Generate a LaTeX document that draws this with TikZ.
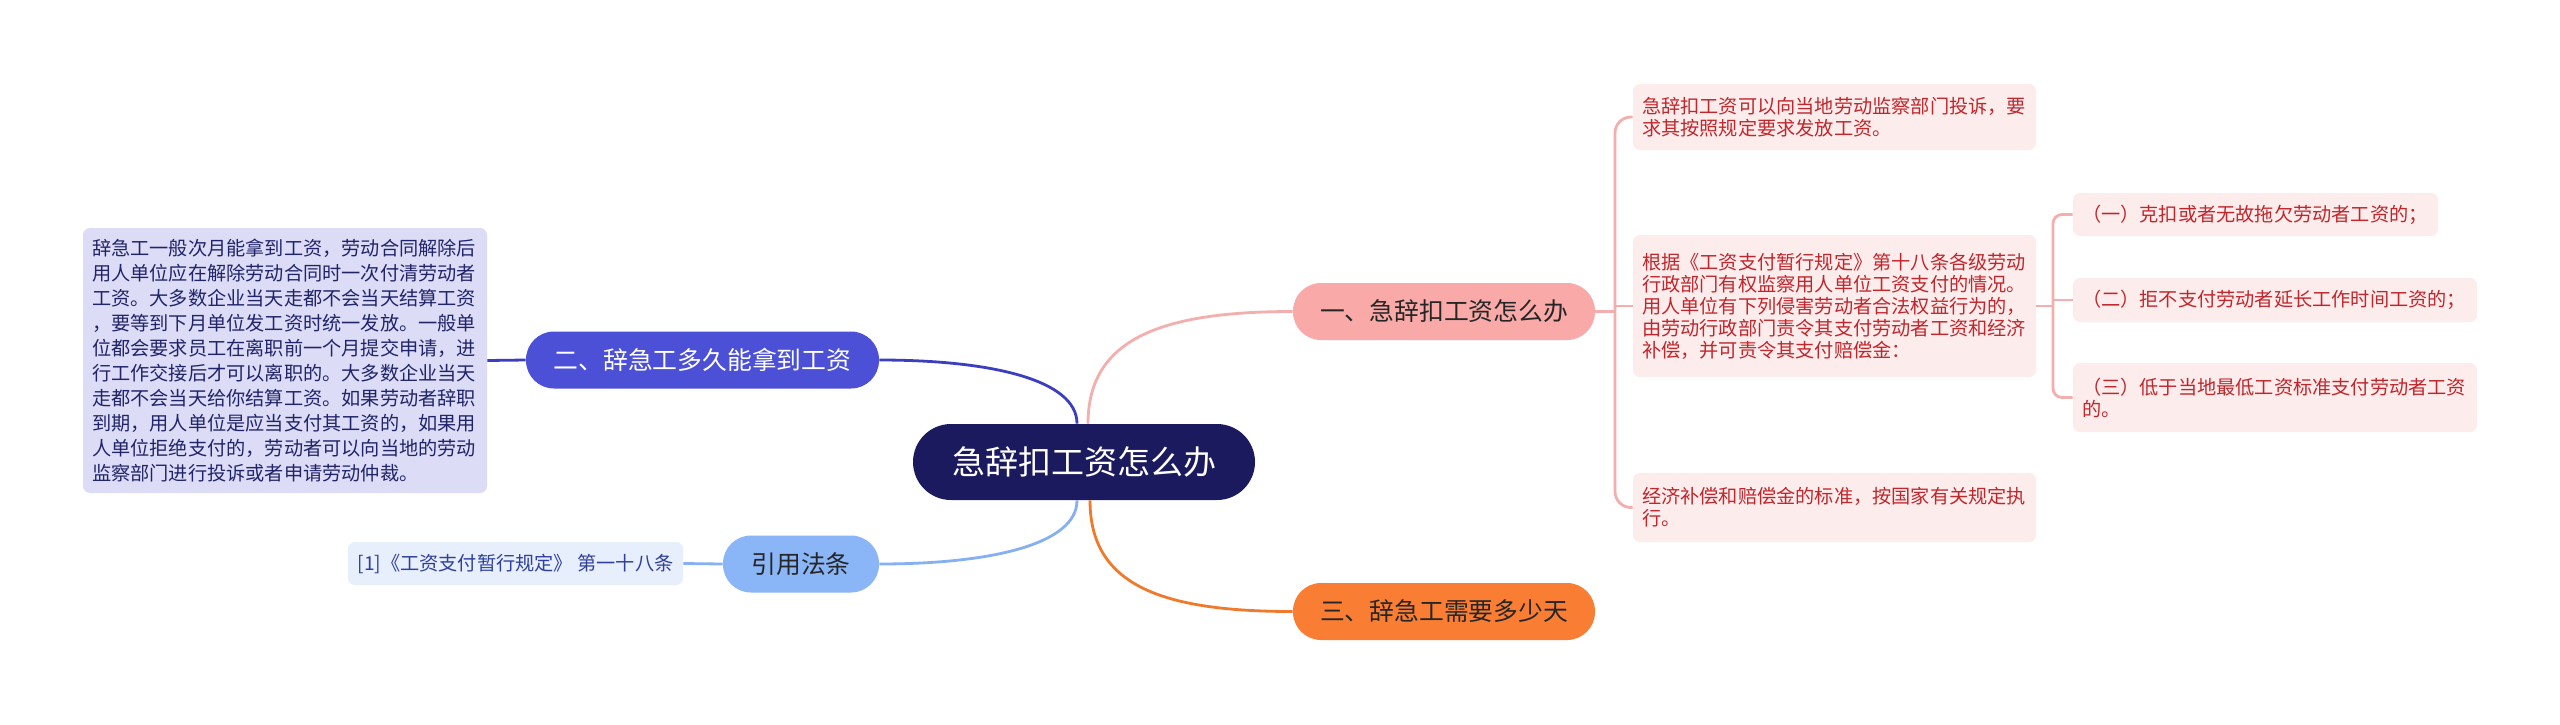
\documentclass[tikz,border=0pt]{standalone}
\usepackage{fontspec}
\setmainfont{Noto Sans CJK SC}
\usepackage{xcolor}
\usepackage{tikz}
\definecolor{rootfill}{HTML}{1C1A5E}
\definecolor{pinkfill}{HTML}{F9AAA8}
\definecolor{orangefill}{HTML}{F97E33}
\definecolor{bluefill}{HTML}{4B50D6}
\definecolor{skyfill}{HTML}{8AB5F7}
\definecolor{pinkleaf}{HTML}{FDECEC}
\definecolor{pinktext}{HTML}{C0272D}
\definecolor{blueleaf}{HTML}{DCDCF6}
\definecolor{bluetext}{HTML}{22246A}
\definecolor{skyleaf}{HTML}{E8EFFC}
\definecolor{skytext}{HTML}{2E3F9E}
\definecolor{pinkline}{HTML}{F3AEAE}
\definecolor{orangeline}{HTML}{EF7A2C}
\definecolor{blueline}{HTML}{3B3FBF}
\definecolor{skyline}{HTML}{86B0F2}

\begin{document}
\begin{tikzpicture}[x=0.5pt,y=-0.5pt,
    root/.style={fill=rootfill,text=white,rounded corners=19pt,minimum width=171pt,minimum height=38pt,font=\fontsize{16.5}{20}\selectfont},
    topic/.style={rounded corners=14pt,minimum height=28.5pt,text=black!85,font=\fontsize{12.4}{15}\selectfont},
    note/.style={rounded corners=3.5pt,align=left,inner xsep=4.5pt,font=\fontsize{9.6}{11}\selectfont},
    redleaf/.style={note,fill=pinkleaf,text=pinktext},
    link/.style={line width=1.4pt}]
    \fill[white] (0,0) rectangle (2560,724);
    \useasboundingbox (0,0) rectangle (2560,724);

    \node[root] (root) at (1084,462) {急辞扣工资怎么办};
    \node[topic,fill=pinkfill,minimum width=151pt] (t1) at (1444,311.5) {一、急辞扣工资怎么办};
    \node[topic,fill=orangefill,minimum width=151pt] (t3) at (1444,611.5) {三、辞急工需要多少天};
    \node[topic,fill=bluefill,text=white,minimum width=176.5pt] (t2) at (702.5,360) {二、辞急工多久能拿到工资};
    \node[topic,fill=skyfill,minimum width=78pt] (t4) at (801,564) {引用法条};

    \node[note,fill=blueleaf,text=bluetext,text width=193pt,minimum height=132.5pt,font=\fontsize{9.6}{12.5}\selectfont] (n21) at (285,360.5)
        {辞急工一般次月能拿到工资，劳动合同解除后\\用人单位应在解除劳动合同时一次付清劳动者\\工资。大多数企业当天走都不会当天结算工资\\，要等到下月单位发工资时统一发放。一般单\\位都会要求员工在离职前一个月提交申请，进\\行工作交接后才可以离职的。大多数企业当天\\走都不会当天给你结算工资。如果劳动者辞职\\到期，用人单位是应当支付其工资的，如果用\\人单位拒绝支付的，劳动者可以向当地的劳动\\监察部门进行投诉或者申请劳动仲裁。};
    \node[note,fill=skyleaf,text=skytext,minimum width=167.5pt,minimum height=21.5pt] (n41) at (515.5,563.5)
        {[1]《工资支付暂行规定》 第一十八条};

    \node[redleaf,text width=192.5pt,minimum height=33pt] (n11) at (1834.5,117)
        {急辞扣工资可以向当地劳动监察部门投诉，要\\求其按照规定要求发放工资。};
    \node[redleaf,text width=192.5pt,minimum height=71pt] (n12) at (1834.5,306)
        {根据《工资支付暂行规定》第十八条各级劳动\\行政部门有权监察用人单位工资支付的情况。\\用人单位有下列侵害劳动者合法权益行为的，\\由劳动行政部门责令其支付劳动者工资和经济\\补偿，并可责令其支付赔偿金：};
    \node[redleaf,text width=192.5pt,minimum height=34.5pt] (n13) at (1834.5,507.5)
        {经济补偿和赔偿金的标准，按国家有关规定执\\行。};

    \node[redleaf,text width=173.5pt,minimum height=21.5pt] (n121) at (2255.5,214.5)
        {（一）克扣或者无故拖欠劳动者工资的；};
    \node[redleaf,text width=193pt,minimum height=22pt] (n122) at (2275,300)
        {（二）拒不支付劳动者延长工作时间工资的；};
    \node[redleaf,text width=193pt,minimum height=34.5pt] (n123) at (2275,397.5)
        {（三）低于当地最低工资标准支付劳动者工资\\的。};

    \draw[link,pinkline] ([xshift=2pt]root.north) .. controls +(0,-84) and +(-133,0) .. (t1.west);
    \draw[link,orangeline] ([xshift=3pt]root.south) .. controls +(0,84) and +(-133,0) .. (t3.west);
    \draw[link,blueline] ([xshift=-3.5pt]root.north) .. controls +(0,-44) and +(111,0) .. (t2.east);
    \draw[link,skyline] ([xshift=-3.5pt]root.south) .. controls +(0,44) and +(111,0) .. (t4.east);
    \draw[link,blueline] (t2.west) -- (n21.east);
    \draw[link,skyline] (t4.west) -- (n41.east);

    \coordinate (j1) at (1615,311.5);
    \draw[link,pinkline] (t1.east) -- (j1);
    \draw[link,pinkline,rounded corners=8pt] (n11.west) -| (j1) |- (n13.west);
    \draw[link,pinkline] (j1 |- n12.west) -- (n12.west);

    \coordinate (j2) at (2053,300);
    \draw[link,pinkline] (n12.east) -- (n12.east -| j2);
    \draw[link,pinkline,rounded corners=4.5pt] (n121.west) -| (j2) |- (n123.west);
    \draw[link,pinkline] (j2) -- (n122.west);
\end{tikzpicture}
\end{document}
